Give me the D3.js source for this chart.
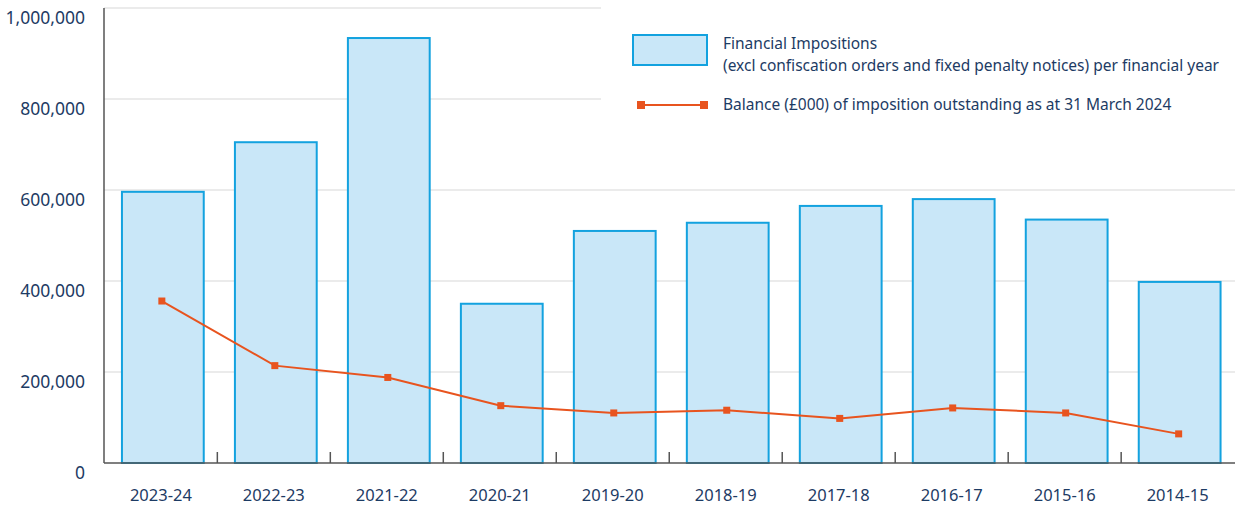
<!DOCTYPE html>
<html>
<head>
<meta charset="utf-8">
<script src="https://cdn.jsdelivr.net/npm/d3@7"></script>
<style>
  body { margin: 0; background: #fff; }
  svg { display: block; font-family: "Noto Sans", sans-serif; }
</style>
</head>
<body>
<svg id="chart"></svg>
<script>
// data
const years = ['2023-24', '2022-23', '2021-22', '2020-21', '2019-20', '2018-19', '2017-18', '2016-17', '2015-16', '2014-15'];
const impositions = [596000, 705000, 934000, 350000, 510000, 528000, 565000, 580000, 535000, 398000];
const balance = [356000, 214000, 188000, 126000, 110000, 116000, 98000, 121000, 110000, 64000];
const yTicks = [0, 200000, 400000, 600000, 800000, 1000000];
const legendBars = ['Financial Impositions', '(excl confiscation orders and fixed penalty notices) per financial year'];
const legendLine = 'Balance (£000) of imposition outstanding as at 31 March 2024';

const width = 1235;
const height = 509;
const plotLeft = 104;
const plotBottom = 463;
const plotTop = 8;

const navy = '#1d3b64';
const barFill = '#c9e7f8';
const barStroke = '#13a2df';
const orange = '#e8541f';

const svg = d3.select('#chart')
    .attr('width', width)
    .attr('height', height);

// scales
const x = d3.scaleBand()
    .domain(years)
    .range([plotLeft, plotLeft + 113.25 * years.length])
    .paddingInner(0.276)
    .paddingOuter(0.15);

const y = d3.scaleLinear()
    .domain([0, 1000000])
    .range([plotBottom, plotTop]);

// gridlines
svg.append('g')
    .selectAll('line')
    .data(yTicks.slice(1))
    .enter()
    .append('line')
    .attr('x1', plotLeft)
    .attr('x2', width)
    .attr('y1', d => y(d))
    .attr('y2', d => y(d))
    .attr('stroke', '#e4e4e4')
    .attr('stroke-width', 1.5);

// y axis labels
const yAxis = d3.axisLeft(y)
    .tickValues(yTicks)
    .tickSize(0)
    .tickPadding(19)
    .tickFormat(d3.format(','));

svg.append('g')
    .attr('transform', `translate(${plotLeft},0)`)
    .call(yAxis)
    .call(g => g.select('.domain').remove())
    .call(g => g.selectAll('text')
        .attr('dy', '0.32em')
        .attr('y', 10)
        .attr('fill', navy)
        .style('font-size', '17.5px')
        .style('font-family', '"Noto Sans", sans-serif'));

// bars
const barOffset = 1;
svg.append('g')
    .selectAll('rect')
    .data(years)
    .enter()
    .append('rect')
    .attr('x', (d) => x(d) + barOffset)
    .attr('y', (d, i) => y(impositions[i]))
    .attr('width', x.bandwidth())
    .attr('height', (d, i) => plotBottom - y(impositions[i]))
    .attr('fill', barFill)
    .attr('stroke', barStroke)
    .attr('stroke-width', 2);

// balance line
const cx = (d) => x(d) + x.bandwidth() / 2;
const line = d3.line()
    .x((d, i) => cx(years[i]))
    .y((d) => y(d));

svg.append('path')
    .datum(balance)
    .attr('d', line)
    .attr('fill', 'none')
    .attr('stroke', orange)
    .attr('stroke-width', 2);

svg.append('g')
    .selectAll('rect')
    .data(balance)
    .enter()
    .append('rect')
    .attr('x', (d, i) => cx(years[i]) - 3.5)
    .attr('y', (d) => y(d) - 3.5)
    .attr('width', 7)
    .attr('height', 7)
    .attr('fill', orange);

// x axis: baseline plus small ticks between categories
const step = x.step();
const xAxis = d3.axisBottom(x).tickSize(0).tickPadding(26);
svg.append('g')
    .attr('transform', `translate(-1,${plotBottom})`)
    .call(xAxis)
    .call(g => g.select('.domain').remove())
    .call(g => g.selectAll('text')
        .attr('fill', navy)
        .style('font-size', '16.5px')
        .style('font-family', '"Noto Sans", sans-serif'));

svg.append('g')
    .selectAll('line')
    .data(years.slice(1))
    .enter()
    .append('line')
    .attr('x1', d => x(d) - x.paddingInner() * step / 2 - 1)
    .attr('x2', d => x(d) - x.paddingInner() * step / 2 - 1)
    .attr('y1', plotBottom)
    .attr('y2', plotBottom - 11)
    .attr('stroke', '#555')
    .attr('stroke-width', 1.5);

svg.append('line')
    .attr('x1', plotLeft)
    .attr('x2', width)
    .attr('y1', plotBottom)
    .attr('y2', plotBottom)
    .attr('stroke', '#555')
    .attr('stroke-width', 1.5);

svg.append('line')
    .attr('x1', plotLeft)
    .attr('x2', plotLeft)
    .attr('y1', plotTop)
    .attr('y2', plotBottom)
    .attr('stroke', '#555')
    .attr('stroke-width', 1.5);

// legend, on a white box that hides the gridlines behind it
const legend = svg.append('g');
legend.append('rect')
    .attr('x', 601)
    .attr('y', 0)
    .attr('width', width - 601)
    .attr('height', 128)
    .attr('fill', '#fff');

legend.append('rect')
    .attr('x', 633)
    .attr('y', 35)
    .attr('width', 74)
    .attr('height', 30)
    .attr('fill', barFill)
    .attr('stroke', barStroke)
    .attr('stroke-width', 2);

legend.selectAll('text.bars')
    .data(legendBars)
    .enter()
    .append('text')
    .attr('class', 'bars')
    .attr('x', 723)
    .attr('y', (d, i) => 49 + i * 22)
    .attr('fill', navy)
    .style('font-size', '15.5px')
    .text(d => d);

legend.append('line')
    .attr('x1', 641)
    .attr('x2', 704)
    .attr('y1', 105)
    .attr('y2', 105)
    .attr('stroke', orange)
    .attr('stroke-width', 2);

legend.selectAll('rect.mk')
    .data([641, 704])
    .enter()
    .append('rect')
    .attr('class', 'mk')
    .attr('x', d => d - 4)
    .attr('y', 101)
    .attr('width', 8)
    .attr('height', 8)
    .attr('fill', orange);

legend.append('text')
    .attr('x', 723)
    .attr('y', 110)
    .attr('fill', navy)
    .style('font-size', '15.5px')
    .text(legendLine);
</script>
</body>
</html>
